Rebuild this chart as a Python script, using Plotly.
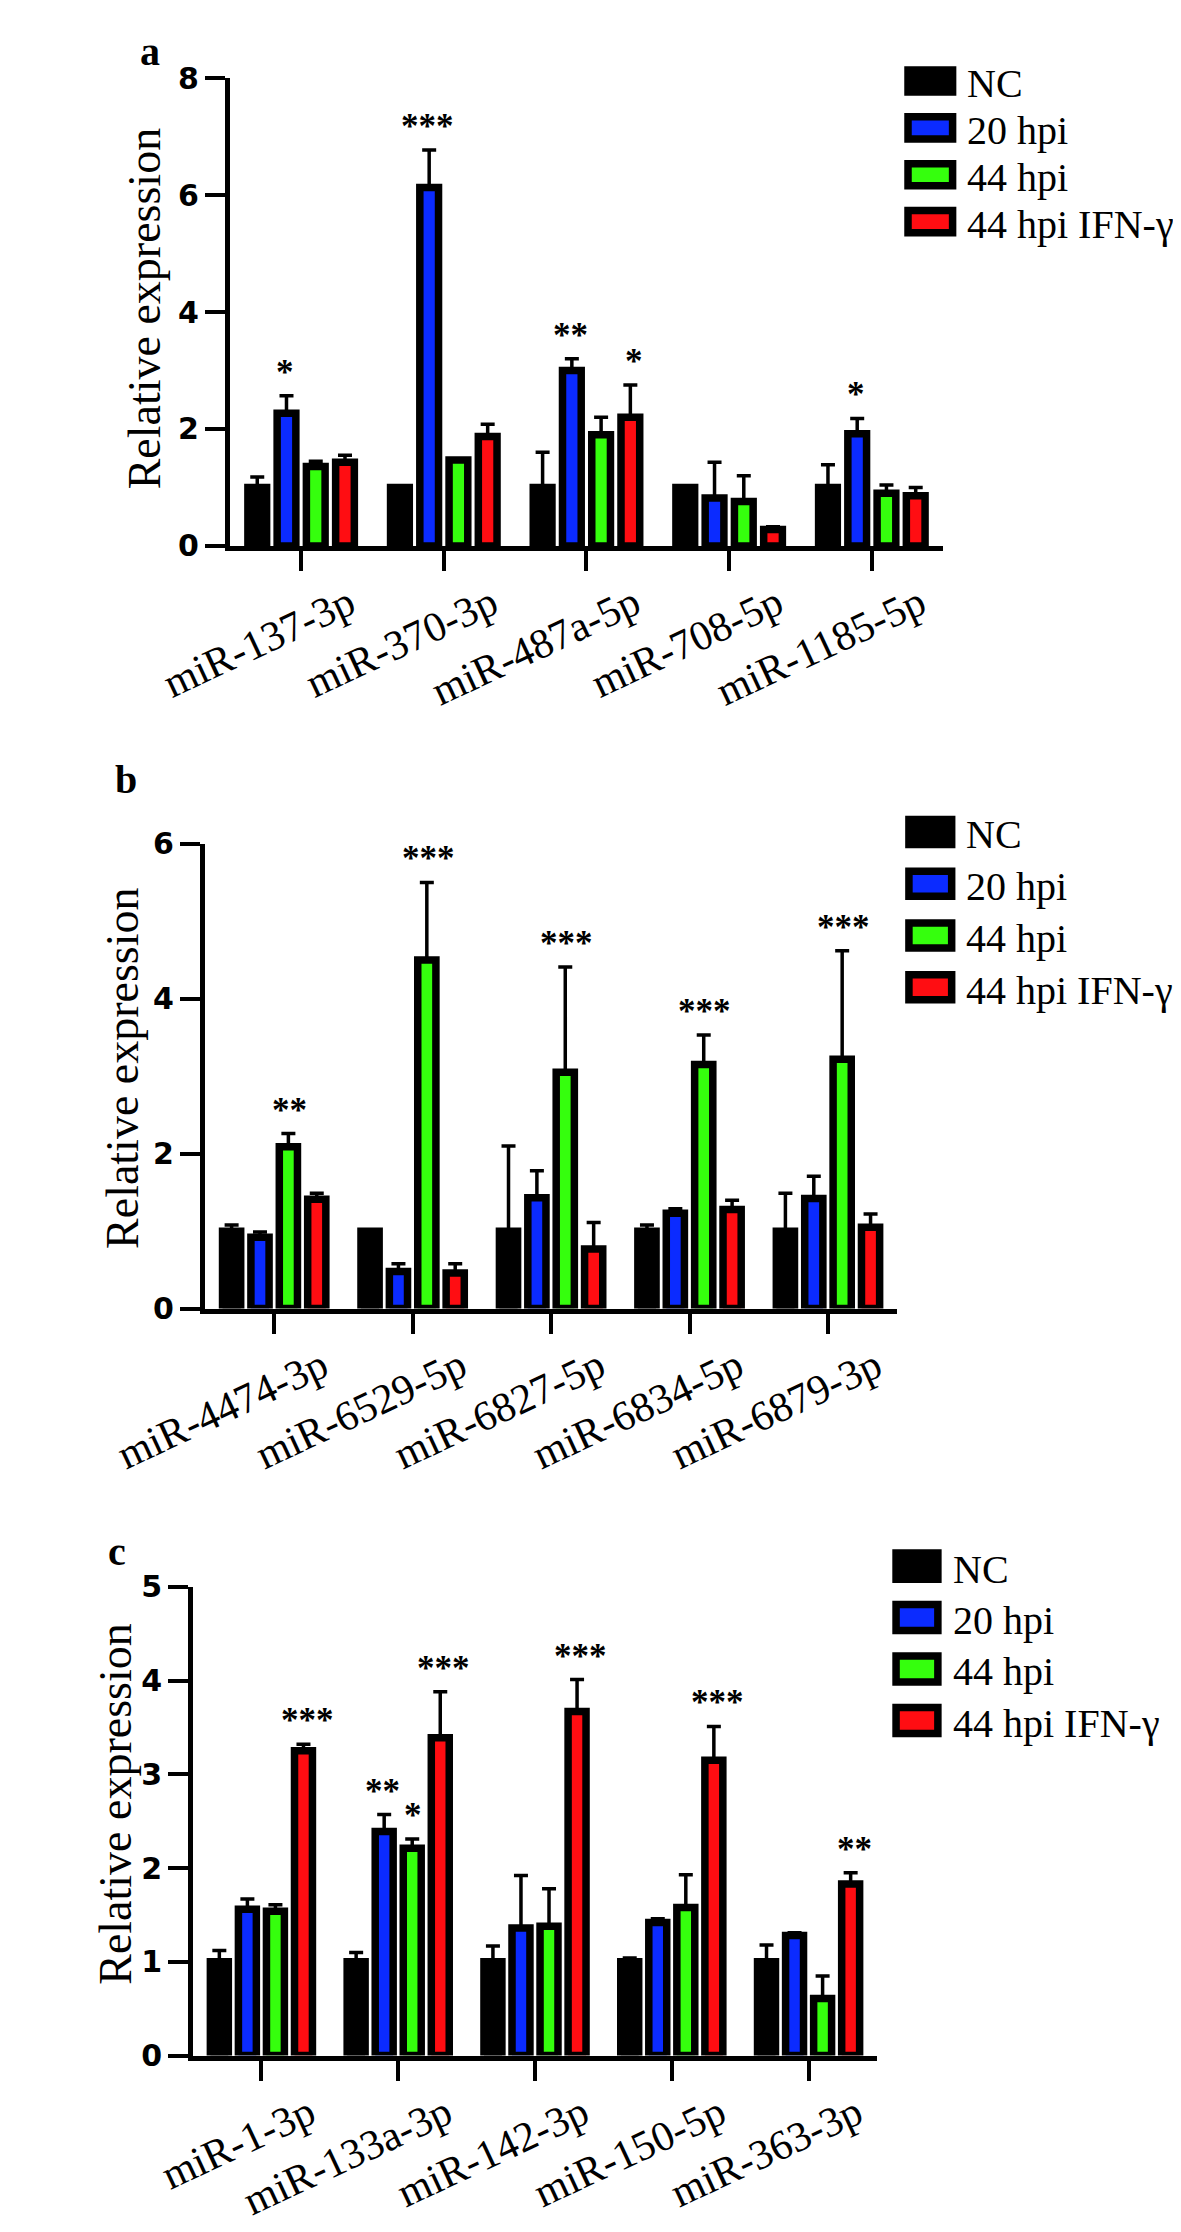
import plotly.graph_objects as go

# target picture size; the page body adds an 8 px margin round the figure
W_REF, H_REF = 1181, 2232
OFF = 8
W, H = W_REF - 2 * OFF, H_REF - 2 * OFF

series_names = ["NC", "20 hpi", "44 hpi", "44 hpi IFN-γ"]
series_colors = ["#000000", "#0b2bff", "#35ff0d", "#ff0d12"]

# ---- panel a ----
a_mirna = ["miR-137-3p", "miR-370-3p", "miR-487a-5p", "miR-708-5p", "miR-1185-5p"]
a_nc = [1.0, 1.0, 1.0, 1.0, 1.0]
a_nc_err = [0.18, 0.02, 0.6, 0.02, 0.39]
a_h20 = [2.27, 6.13, 3.0, 0.82, 1.92]
a_h20_err = [0.3, 0.64, 0.2, 0.61, 0.26]
a_h44 = [1.36, 1.47, 1.9, 0.76, 0.9]
a_h44_err = [0.09, 0.02, 0.3, 0.44, 0.14]
a_ifn = [1.43, 1.87, 2.2, 0.28, 0.86]
a_ifn_err = [0.12, 0.21, 0.55, 0.05, 0.14]
a_stars = [["", "", "", "", ""], ["*", "***", "**", "", "*"],
           ["", "", "", "", ""], ["", "", "*", "", ""]]
a_yticks = [0, 2, 4, 6, 8]

# ---- panel b ----
b_mirna = ["miR-4474-3p", "miR-6529-5p", "miR-6827-5p", "miR-6834-5p", "miR-6879-3p"]
b_nc = [1.0, 1.0, 1.0, 1.0, 1.0]
b_nc_err = [0.08, 0.01, 1.1, 0.08, 0.49]
b_h20 = [0.92, 0.48, 1.43, 1.23, 1.42]
b_h20_err = [0.07, 0.1, 0.35, 0.06, 0.29]
b_h44 = [2.09, 4.5, 3.05, 3.15, 3.22]
b_h44_err = [0.17, 1.0, 1.36, 0.38, 1.4]
b_ifn = [1.41, 0.46, 0.77, 1.28, 1.05]
b_ifn_err = [0.08, 0.12, 0.34, 0.12, 0.17]
b_stars = [["", "", "", "", ""], ["", "", "", "", ""],
           ["**", "***", "***", "***", "***"], ["", "", "", "", ""]]
b_yticks = [0, 2, 4, 6]

# ---- panel c ----
c_mirna = ["miR-1-3p", "miR-133a-3p", "miR-142-3p", "miR-150-5p", "miR-363-3p"]
c_nc = [1.0, 1.0, 1.0, 1.0, 1.0]
c_nc_err = [0.12, 0.1, 0.17, 0.04, 0.18]
c_h20 = [1.56, 2.39, 1.36, 1.42, 1.28]
c_h20_err = [0.11, 0.18, 0.56, 0.04, 0.03]
c_h44 = [1.54, 2.21, 1.38, 1.58, 0.61]
c_h44_err = [0.07, 0.1, 0.4, 0.35, 0.24]
c_ifn = [3.25, 3.39, 3.67, 3.15, 1.83]
c_ifn_err = [0.07, 0.49, 0.34, 0.36, 0.12]
c_stars = [["", "", "", "", ""], ["", "**", "", "", ""],
           ["", "*", "", "", ""], ["***", "***", "***", "***", "**"]]
c_yticks = [0, 1, 2, 3, 4, 5]

panels = [
    dict(letter="a", cats=a_mirna, vals=[a_nc, a_h20, a_h44, a_ifn],
         errs=[a_nc_err, a_h20_err, a_h44_err, a_ifn_err], stars=a_stars, yticks=a_yticks,
         x0=147, x1=923, ytop=61, ybot=537, letter_xy=(60, 34), title_xy=(54, 295),
         leg_x=(881, 937), leg_y=[64, 111.7, 159.3, 207], leg_h=30, leg_tx=947),
    dict(letter="b", cats=b_mirna, vals=[b_nc, b_h20, b_h44, b_ifn],
         errs=[b_nc_err, b_h20_err, b_h44_err, b_ifn_err], stars=b_stars, yticks=b_yticks,
         x0=120, x1=873, ytop=840, ybot=1313, letter_xy=(34, 775), title_xy=(31, 1068),
         leg_x=(882, 936), leg_y=[828, 880.7, 933.3, 986], leg_h=33, leg_tx=946),
    dict(letter="c", cats=c_mirna, vals=[c_nc, c_h20, c_h44, c_ifn],
         errs=[c_nc_err, c_h20_err, c_h44_err, c_ifn_err], stars=c_stars, yticks=c_yticks,
         x0=107, x1=851, ytop=1596, ybot=2073, letter_xy=(24, 1560), title_xy=(23, 1817),
         leg_x=(868, 921), leg_y=[1575, 1627.3, 1679.7, 1732], leg_h=34, leg_tx=932),
]

BARGAP = 0.18
GROUPGAP = 0.36
LW = 7.5
SERIF = "Liberation Serif, Times New Roman, serif"
DIGITS = "DejaVu Sans, Arial, sans-serif"


def px(x):
    return (x - OFF) / W


def py(y):
    return 1 - (y - OFF) / H


fig = go.Figure()
annotations = []
shapes = []

for k, p in enumerate(panels):
    n = k + 1
    xa = "x" if n == 1 else "x%d" % n
    ya = "y" if n == 1 else "y%d" % n
    for i in range(4):
        fig.add_trace(go.Bar(
            x=p["cats"], y=p["vals"][i], name=series_names[i],
            xaxis=xa, yaxis=ya, showlegend=False,
            marker=dict(color=series_colors[i], line=dict(color="black", width=LW)),
            error_y=dict(type="data", array=p["errs"][i], symmetric=False,
                         arrayminus=[0] * len(p["cats"]),
                         color="black", thickness=3.5, width=7),
        ))

    ymax = p["yticks"][-1]
    fig.layout["xaxis" if n == 1 else "xaxis%d" % n] = dict(
        domain=[px(p["x0"]), px(p["x1"])], anchor=ya, type="category",
        range=[-0.5, len(p["cats"]) - 0.5], showline=True, linecolor="black", linewidth=5,
        ticks="outside", ticklen=20, tickwidth=4, tickcolor="black", tickangle=-25,
        ticklabelshift=48, ticklabelstandoff=-8,
        tickfont=dict(family=SERIF, size=42, color="black"),
        showgrid=False, zeroline=False, fixedrange=True)
    fig.layout["yaxis" if n == 1 else "yaxis%d" % n] = dict(
        domain=[py(p["ybot"]), py(p["ytop"])], anchor=xa, range=[0, ymax],
        tickvals=p["yticks"], showline=True, linecolor="black", linewidth=5,
        ticks="outside", ticklen=20, tickwidth=4, tickcolor="black",
        tickfont=dict(family=DIGITS, size=30, color="black", weight="bold"),
        showgrid=False, zeroline=False, fixedrange=True)

    # significance marks above the error bars
    slot = (p["x1"] - p["x0"]) / len(p["cats"]) * (1 - BARGAP) / 4
    for i in range(4):
        for j, s in enumerate(p["stars"][i]):
            if s:
                annotations.append(dict(
                    x=p["cats"][j], y=p["vals"][i][j] + p["errs"][i][j], xref=xa, yref=ya,
                    text=s, showarrow=False, xshift=(i - 1.5) * slot, yanchor="bottom",
                    yshift=2, font=dict(family=SERIF, size=35, color="black", weight="bold")))

    # panel letter and y title
    annotations.append(dict(
        x=px(p["letter_xy"][0]), y=py(p["letter_xy"][1]), xref="paper", yref="paper",
        text=p["letter"], showarrow=False, xanchor="center", yanchor="middle",
        font=dict(family=SERIF, size=40, color="black", weight="bold")))
    annotations.append(dict(
        x=px(p["title_xy"][0]), y=py(p["title_xy"][1]), xref="paper", yref="paper",
        text="Relative expression", textangle=-90, showarrow=False,
        xanchor="center", yanchor="middle", font=dict(family=SERIF, size=46, color="black")))

    # legend
    lx0, lx1 = p["leg_x"]
    hh = p["leg_h"] / 2
    for i, cy in enumerate(p["leg_y"]):
        shapes.append(dict(
            type="rect", xref="paper", yref="paper",
            x0=px(lx0 + LW / 2), x1=px(lx1 - LW / 2),
            y0=py(cy + hh - LW / 2), y1=py(cy - hh + LW / 2),
            line=dict(color="black", width=LW), fillcolor=series_colors[i]))
        annotations.append(dict(
            x=px(p["leg_tx"]), y=py(cy + 3), xref="paper", yref="paper",
            text=series_names[i], showarrow=False, xanchor="left", yanchor="middle",
            font=dict(family=SERIF, size=40, color="black")))

fig.update_layout(
    width=W, height=H, margin=dict(l=0, r=0, t=0, b=0),
    paper_bgcolor="white", plot_bgcolor="white",
    barmode="group", bargap=BARGAP, bargroupgap=GROUPGAP,
    annotations=annotations, shapes=shapes, showlegend=False,
)

fig.write_html("out.html")
